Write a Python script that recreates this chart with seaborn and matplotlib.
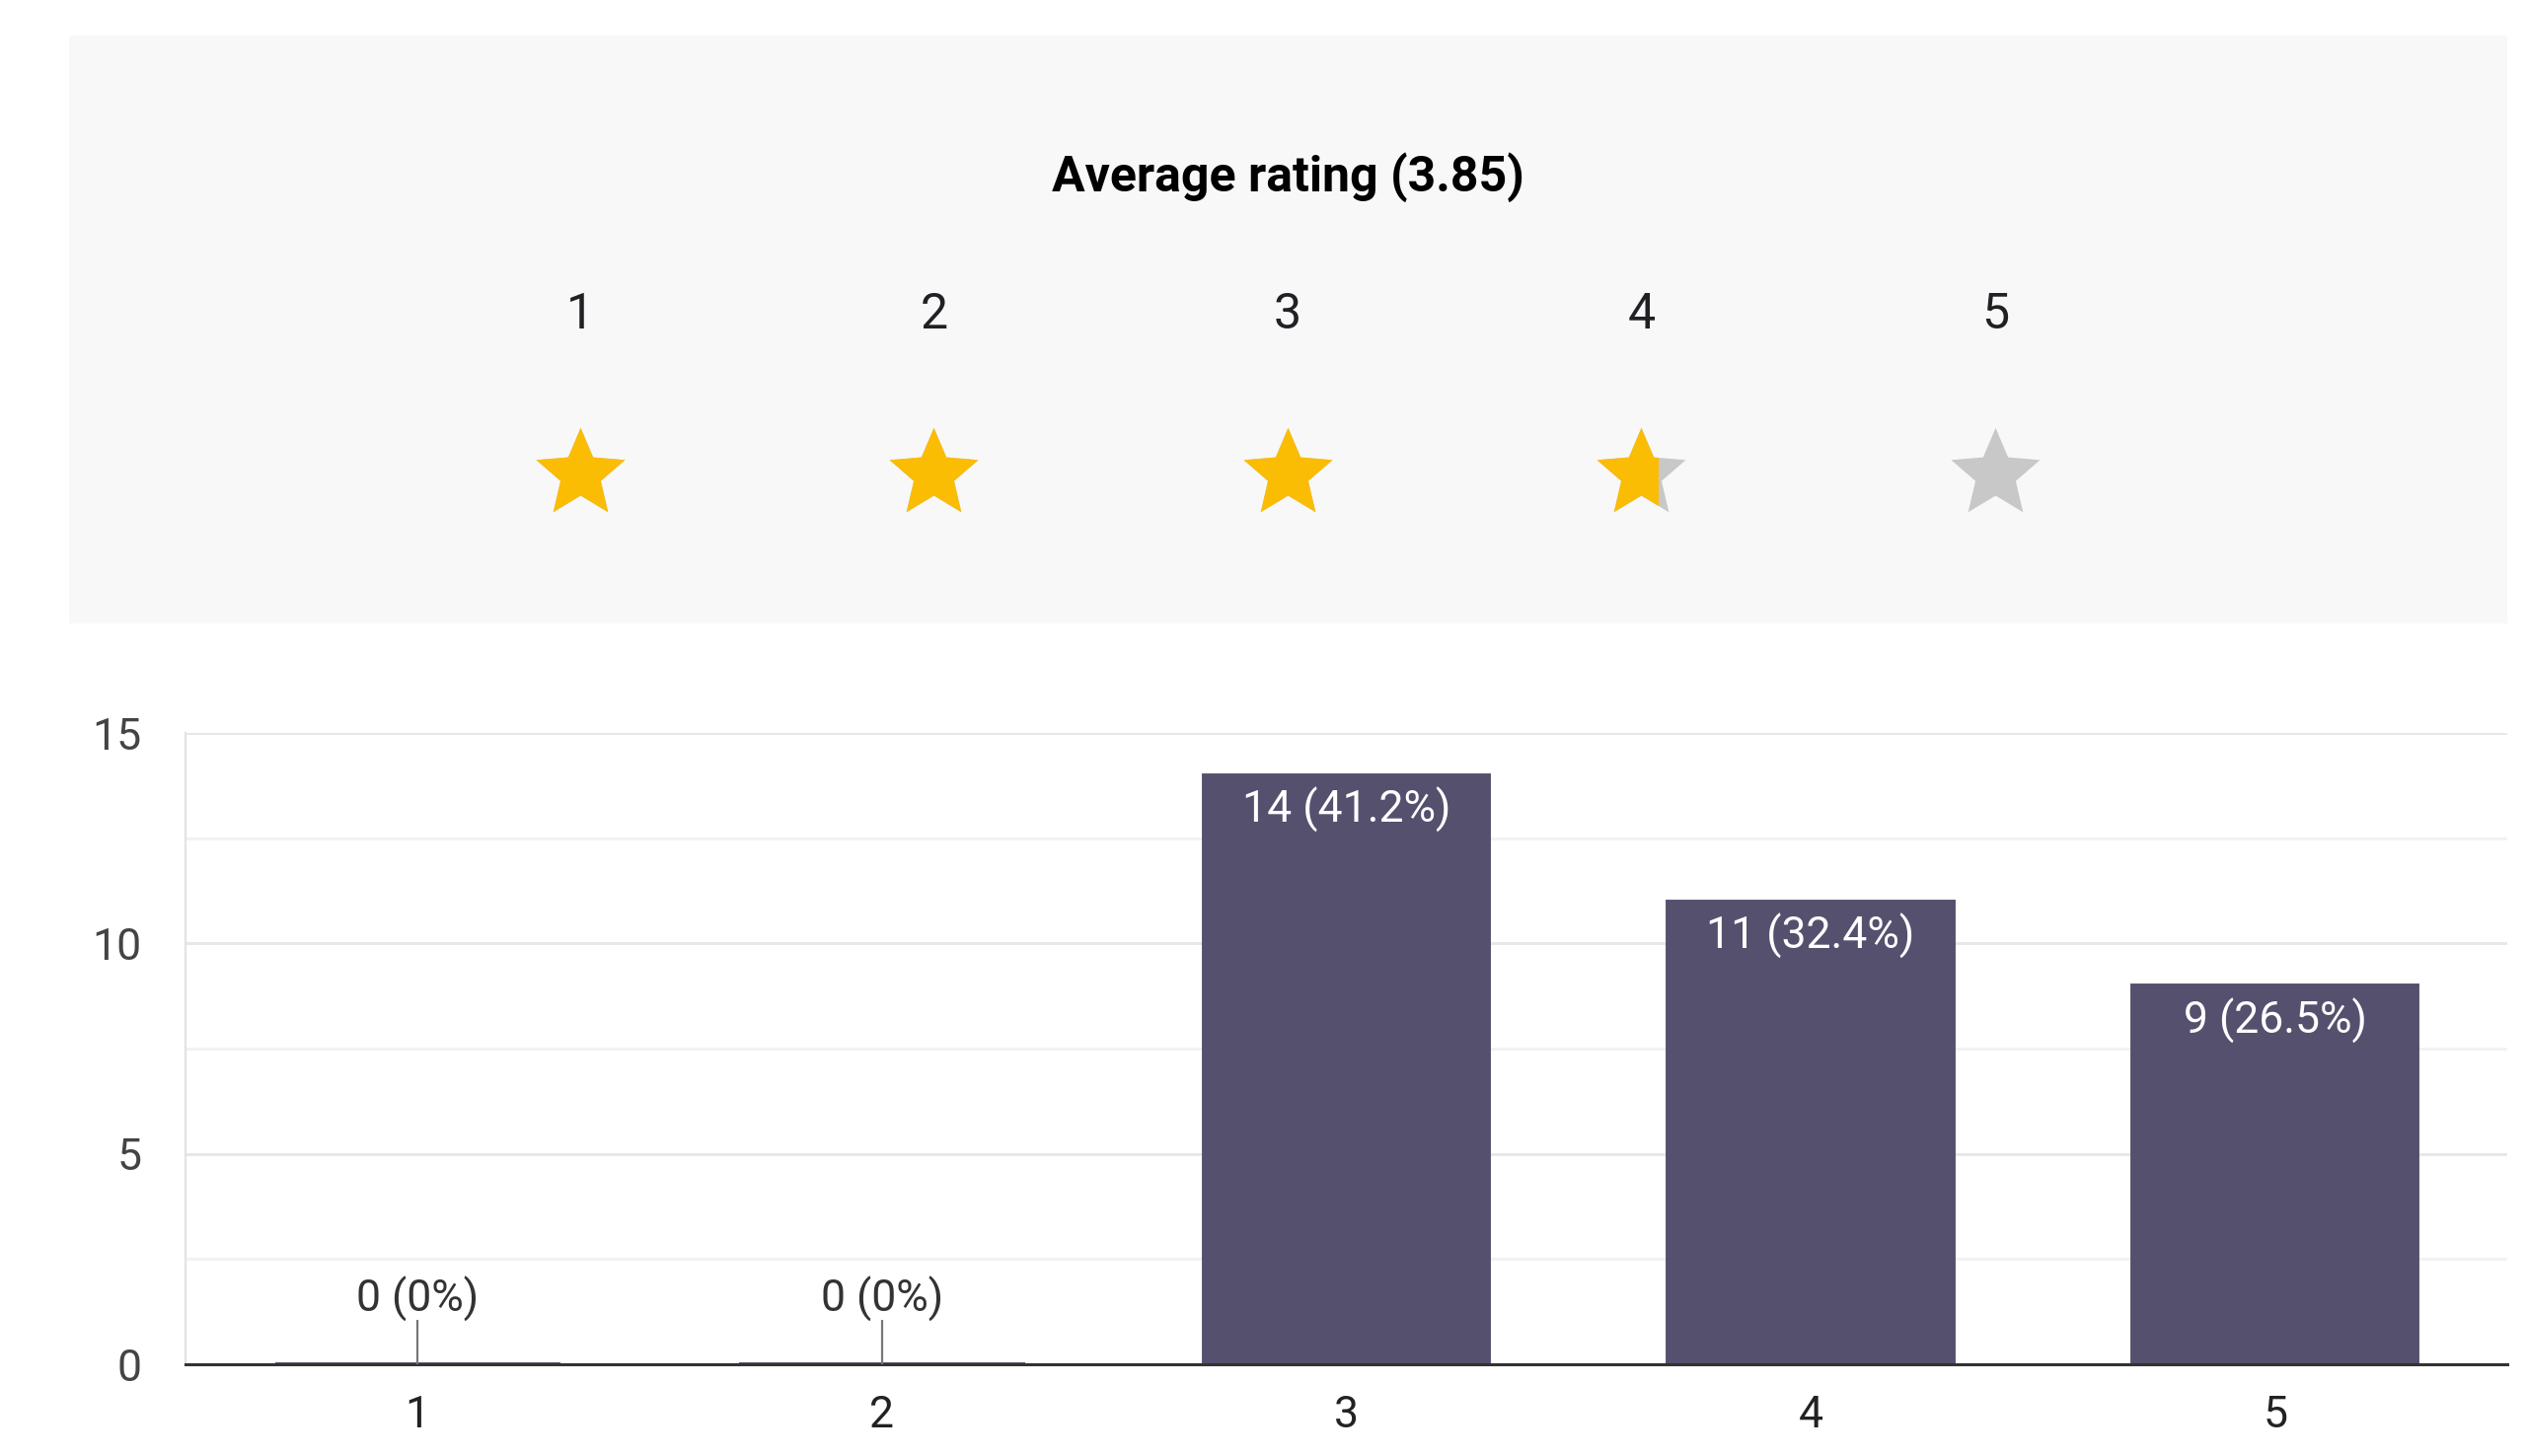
import numpy as np
import pandas as pd
import seaborn as sns
import matplotlib.pyplot as plt
from matplotlib.path import Path
from matplotlib.patches import Rectangle
from matplotlib.ticker import MultipleLocator

# ==========================================
# 数据
# ==========================================
ratings = ['1', '2', '3', '4', '5']
counts = [0, 0, 14, 11, 9]
percents = [0, 0, 41.2, 32.4, 26.5]
avg_rating = 3.85

df = pd.DataFrame({'rating': ratings, 'count': counts, 'pct': percents})

# ==========================================
# 风格
# ==========================================
sns.set_theme(style="white")
plt.rcParams['font.family'] = ['Roboto', 'DejaVu Sans']

bar_color = '#54506e'
gold = '#fbbc04'
star_grey = '#c8c8c8'
panel_bg = '#f8f8f9'

# Material 风格五角星 (24x24 icon 路径)
star_verts = np.array([
    (12, 17.27), (18.18, 21), (16.54, 13.97), (22, 9.24), (14.81, 8.63),
    (12, 2), (9.19, 8.63), (2, 9.24), (7.46, 13.97), (5.82, 21), (12, 17.27)
])
star_verts = np.column_stack([star_verts[:, 0] - 12, 11.5 - star_verts[:, 1]])
star_marker = Path(star_verts, closed=True)

fig = plt.figure(figsize=(12.8, 7.38), dpi=200)
fig.patch.set_facecolor('white')

# ==========================================
# 上半部分：平均评分 + 星星
# ==========================================
W, H = 2560, 1476
ax_top = fig.add_axes([70 / W, 1 - 632 / H, 2471 / W, 596 / H])
ax_top.set_facecolor(panel_bg)
for s in ax_top.spines.values():
    s.set_visible(False)
ax_top.set_xticks([])
ax_top.set_yticks([])
ax_top.set_xlim(-0.445, 6.448)
ax_top.set_ylim(0, 1)

star_x = np.arange(1, len(ratings) + 1)
star_y = np.full(len(ratings), 0.262)
star_size = 1050          # 约 90px 宽
star_w = 90 / 358.5       # 星星宽度（数据单位）
fill_frac = 0.685         # 部分星的可见填充比例

ax_top.text(3, 0.735, f'Average rating ({avg_rating})', ha='center', va='baseline',
            fontsize=18, fontweight='bold', color='#000000')
for x, lab in zip(star_x, ratings):
    ax_top.text(x, 0.501, lab, ha='center', va='baseline', fontsize=18, color='#202124')

sns.scatterplot(x=star_x, y=star_y, marker=star_marker, s=star_size, color=star_grey,
                linewidth=0, ax=ax_top, legend=False)
n_gold = int(np.ceil(avg_rating))
gold_pts = ax_top.scatter(star_x[:n_gold], star_y[:n_gold], marker=star_marker, s=star_size,
                          color=gold, linewidth=0, zorder=3)
clip_x = np.floor(avg_rating) + 1 - star_w / 2 + fill_frac * star_w
clip_rect = Rectangle((-1, 0), clip_x + 1, 1, transform=ax_top.transData)
gold_pts.set_clip_path(clip_rect)

# ==========================================
# 下半部分：柱状图
# ==========================================
ax = fig.add_axes([188 / W, 1 - 1383 / H, 2353 / W, 640 / H])
sns.barplot(data=df, x='rating', y='count', color=bar_color, width=0.615,
            edgecolor=bar_color, linewidth=1.4, saturation=1, ax=ax)

ax.set_xlim(-0.5, len(ratings) - 0.5)
ax.set_ylim(0, 15)
ax.set_yticks([0, 5, 10, 15])
ax.yaxis.set_minor_locator(MultipleLocator(2.5))
ax.grid(axis='y', which='major', color='#e6e6e6', linewidth=1.0)
ax.grid(axis='y', which='minor', color='#f1f1f1', linewidth=1.0)
ax.set_axisbelow(True)
ax.set_xlabel('')
ax.set_ylabel('')
ax.tick_params(axis='both', which='both', length=0)
ax.tick_params(axis='y', pad=16, labelsize=16, labelcolor='#444444')
ax.tick_params(axis='x', pad=11, labelsize=16, labelcolor='#222222')

for side in ['top', 'right']:
    ax.spines[side].set_visible(False)
ax.spines['left'].set_color('#e3e3e3')
ax.spines['left'].set_linewidth(0.8)
ax.spines['bottom'].set_color('#333333')
ax.spines['bottom'].set_linewidth(1.1)

# 数值标签
leader_len = 1.05
for i, (c, p) in enumerate(zip(counts, percents)):
    label = f'{c} ({p:g}%)'
    if c == 0:
        ax.vlines(i, 0, leader_len, color='#777777', linewidth=0.8, zorder=4)
        ax.text(i, 1.24, label, ha='center', va='baseline', fontsize=16, color='#333333')
    else:
        ax.annotate(label, (i, c), xytext=(0, -4.5), textcoords='offset points',
                    ha='center', va='top', fontsize=16, color='white')

fig.savefig('out.png', dpi=200, facecolor='white')
